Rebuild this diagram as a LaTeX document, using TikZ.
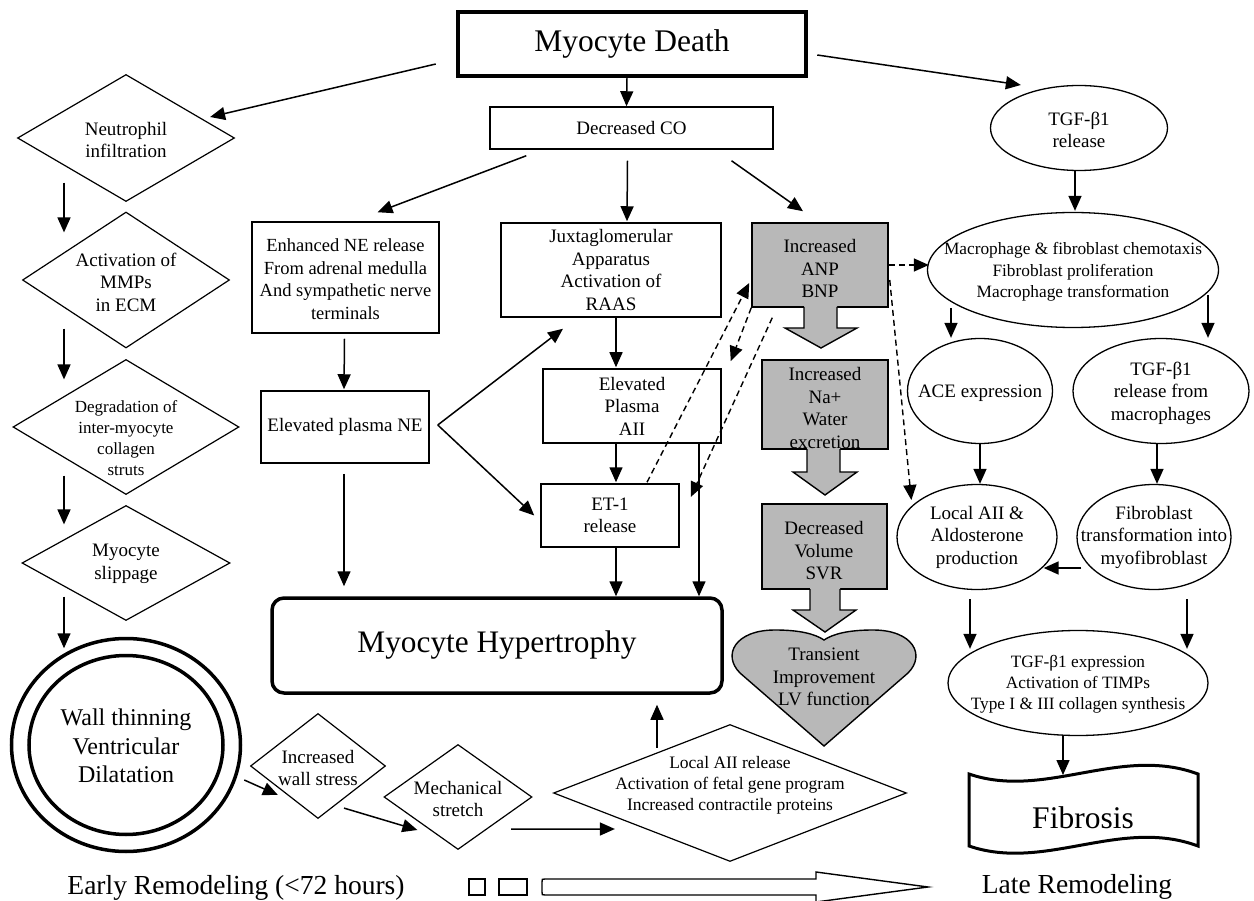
\documentclass[tikz,border=0pt]{standalone}
\usepackage{fontspec}
\setmainfont{Liberation Serif}
\usetikzlibrary{arrows.meta,shapes.geometric,calc}
\definecolor{greyfill}{RGB}{184,184,184}
\begin{document}
\begin{tikzpicture}[x=1pt,y=-1pt,
  t18/.style={font=\fontsize{19}{22.5}\selectfont, align=center, inner sep=0pt},
  t17/.style={font=\fontsize{17.3}{21.5}\selectfont, align=center, inner sep=0pt},
  arr/.style={line width=1.5pt, -{Triangle[length=15pt,width=13pt]}},
  darr/.style={line width=1.4pt, dash pattern=on 6pt off 4pt, -{Triangle[length=15pt,width=13pt]}},
  rbox/.style={draw, line width=1.5pt, rectangle, inner sep=0pt, t18},
  gbox/.style={rbox, fill=greyfill},
  dia/.style={draw, line width=1.2pt, diamond, inner sep=0pt},
  ell/.style={draw, line width=1.3pt, ellipse, inner sep=0pt},
  blk/.style={line width=1.4pt},
]
\path[use as bounding box] (0,0) rectangle (1254,901);

% ---------- top ----------
\node[rbox, line width=4.5pt, minimum width=348, minimum height=64,
      font=\fontsize{31.5}{36}\selectfont] (death) at (632,44) {Myocyte Death};
\node[rbox, minimum width=283, minimum height=42] (co) at (631.5,128) {Decreased CO};

% ---------- middle column ----------
\node[rbox, minimum width=187, minimum height=111] (ne) at (345.5,277.5) {};
\node[t18, font=\fontsize{18.5}{22.5}\selectfont] (net) at (345.5,279) {Enhanced NE release\\From adrenal medulla\\And sympathetic nerve\\terminals};
\node[rbox, minimum width=168, minimum height=72] (pne) at (345,427) {Elevated plasma NE};
\node[rbox, minimum width=220, minimum height=94] (jx) at (611,270) {Juxtaglomerular\\Apparatus\\Activation of\\RAAS};
\node[rbox, minimum width=178, minimum height=74] (aii) at (632,406) {Elevated\\Plasma\\AII};
\node[rbox, minimum width=138, minimum height=63] (et1) at (610,515.5) {ET-1\\release};
\node[draw, line width=3.5pt, rounded corners=12pt, minimum width=450, minimum height=95,
      inner sep=0pt, font=\fontsize{31.3}{36}\selectfont] (hyp) at (497,645.5) {Myocyte Hypertrophy};

% ---------- gray column ----------
\node[gbox, minimum width=136, minimum height=84] (anp) at (820,265) {};
\node[t18] (anpt) at (820,268.5) {Increased\\ANP\\BNP};
\node[gbox, minimum width=126, minimum height=89] (na) at (825,404.5) {};
\node[gbox, minimum width=125, minimum height=85] (vol) at (824.5,546.5) {};
% block arrows
\fill[greyfill] (804,305) -- (804,328) -- (785,328) -- (821,348) -- (857,328) -- (837,328) -- (837,305) -- cycle;
\draw[blk] (804,307) -- (804,328) -- (785,328) -- (821,348) -- (857,328) -- (837,328) -- (837,307);
\fill[greyfill] (807,447) -- (807,472) -- (793,472) -- (825,495) -- (857,472) -- (840,472) -- (840,447) -- cycle;
\draw[blk] (807,449) -- (807,472) -- (793,472) -- (825,495) -- (857,472) -- (840,472) -- (840,449);
\node[t18] (nat) at (825,408) {Increased\\Na+\\Water\\excretion};
\node[t18] (volt) at (824,551) {Decreased\\Volume\\SVR};
% heart
\draw[blk, fill=greyfill] (824,746) -- (740,673) .. controls (722,655) and (735,630) .. (775,630)
   .. controls (800,630) and (815,634) .. (824,640)
   .. controls (833,634) and (848,630) .. (873,630)
   .. controls (913,630) and (926,655) .. (908,673) -- cycle;
\fill[greyfill] (810,587) -- (810,610) -- (793,610) -- (825,632) -- (856,610) -- (840,610) -- (840,587) -- cycle;
\draw[blk] (810,589) -- (810,610) -- (793,610) -- (825,632) -- (856,610) -- (840,610) -- (840,589);
\node[t18] (heartt) at (824,677) {Transient\\Improvement\\LV function};

% ---------- left column ----------
\node[dia, minimum width=217, minimum height=127] (n1) at (126,138) {};
\node[t18] (n1t) at (126,140) {Neutrophil\\infiltration};
\node[dia, minimum width=207, minimum height=136] (n2) at (126,280) {};
\node[t18] (n2t) at (126,282) {Activation of\\MMPs\\in ECM};
\node[dia, minimum width=226, minimum height=135] (n3) at (126,427) {};
\node[t17, font=\fontsize{17}{21}\selectfont] (n3t) at (126,438) {Degradation of\\inter-myocyte\\collagen\\struts};
\node[dia, minimum width=208, minimum height=115] (n4) at (126,563) {};
\node[t18] (n4t) at (126,564) {Myocyte\\slippage};
\node[ell, line width=3.5pt, minimum width=229, minimum height=213] (circO) at (126,745) {};
\node[ell, line width=3.5pt, minimum width=194, minimum height=179] (circI) at (126,745) {};
\node[font=\fontsize{24}{28.5}\selectfont, align=center, inner sep=0pt] (circt) at (126,746)
   {Wall thinning\\Ventricular\\Dilatation};

% ---------- bottom chain ----------
\node[dia, minimum width=135, minimum height=105] (ws) at (318,766) {};
\node[t18] (wst) at (318,768) {Increased\\wall stress};
\node[dia, minimum width=148, minimum height=105] (mech) at (458,797) {};
\node[t18] (mecht) at (458,799) {Mechanical\\stretch};
\node[dia, minimum width=353, minimum height=137] (ldia) at (730,793) {};
\node[t17, font=\fontsize{17.5}{21}\selectfont] (ldiat) at (730,785) {Local AII release\\Activation of fetal gene program\\Increased contractile proteins};

% ---------- right column ----------
\node[ell, minimum width=177, minimum height=85] (tgf) at (1079,128) {};
\node[t18] (tgft) at (1079,130) {TGF-β1\\release};
\node[ell, minimum width=291, minimum height=115] (mac) at (1073,270) {};
\node[t17] (mact) at (1073,272) {Macrophage \& fibroblast chemotaxis\\Fibroblast proliferation\\Macrophage transformation};
\node[ell, minimum width=145, minimum height=105] (ace) at (980,391) {};
\node[t18] (acet) at (980,393) {ACE expression};
\node[ell, minimum width=176, minimum height=105] (tgfm) at (1161,391) {};
\node[t18] (tgfmt) at (1161,393) {TGF-β1\\release from\\macrophages};
\node[ell, minimum width=160, minimum height=105] (lai) at (977,537) {};
\node[t18] (lait) at (977,537) {Local AII \&\\Aldosterone\\production};
\node[ell, minimum width=154, minimum height=105] (fib) at (1154,537) {};
\node[t18] (fibt) at (1154,537) {Fibroblast\\transformation into\\myofibroblast};
\node[ell, minimum width=260, minimum height=105] (bt) at (1078,683) {};
\node[t17, font=\fontsize{17.3}{21}\selectfont] (btt) at (1078,684)
   {TGF-β1 expression\\Activation of TIMPs\\Type I \& III collagen synthesis};
% fibrosis wave
\draw[line width=3pt] (969,774) .. controls (1045,800) and (1120,745) .. (1198,774)
   -- (1198,846) .. controls (1120,817) and (1045,872) .. (969,846) -- cycle;
\node[font=\fontsize{31.5}{34}\selectfont, inner sep=0pt] (fibro) at (1083,818) {Fibrosis};

% ---------- bottom labels ----------
\node[font=\fontsize{27.5}{30}\selectfont, anchor=base, inner sep=0pt] (early) at (236,894) {Early Remodeling (<72 hours)};
\node[font=\fontsize{27.5}{30}\selectfont, anchor=base, inner sep=0pt] (late) at (1077,893) {Late Remodeling};
\draw[blk] (469,879) rectangle (485,895);
\draw[blk] (499,879) rectangle (527,895);
\draw[blk] (816,879) -- (545,879) .. controls (542,879) .. (542,882) -- (542,892) .. controls (542,895) .. (545,895)
   -- (816,895) -- (816,902) -- (928,887) -- (816,872) -- cycle;

% ---------- connectors ----------
\draw[arr] ([xshift=-5pt]death.south) -- ([xshift=-5pt]co.north);
\draw[arr] ($(death.west)+(-20,20)$) -- ($(n1.east)+(-25,-21)$);
\draw[arr] ($(death.east)+(9,11)$) -- ($(tgf.west)+(31,-43)$);
\draw[arr] ($(co.south west)+(37,6)$) -- ($(ne.north)+(32,-9)$);
\draw[arr] ($(co.south)+(-4,11)$) -- ($(jx.north)+(16,-1)$);
\draw[arr] ($(co.south)+(100,11)$) -- ($(anp.north)+(-17,-11)$);

\draw[arr] ($(ne.south)+(-1,5)$) -- ($(pne.north)+(-1,-1)$);
\draw[arr] ($(pne.south)+(-1,10)$) -- ($(hyp.north)+(-153,-10)$);
\draw[arr] ($(pne.east)+(8,-2)$) -- ($(jx.south)+(-48,11)$);
\draw[arr] ($(pne.east)+(8,-2)$) -- ($(et1.west)+(-6,0)$);
\draw[arr] ($(jx.south)+(5,0)$) -- ($(aii.north)+(-16,-1)$);
\draw[arr] ($(aii.south)+(-16,0)$) -- ($(et1.north)+(6,-1)$);
\draw[arr] ($(et1.south)+(6,0)$) -- ($(hyp.north)+(119,0)$);
\draw[arr] ($(aii.south)+(67,0)$) -- ($(hyp.north)+(202,0)$);

\draw[darr] ($(anp.east)$) -- ($(mac.west)+(2,-5)$);
\draw[darr] ($(anp.east)+(1,15)$) -- ($(lai.west)+(15,-37)$);
\draw[darr] ($(et1.north)+(37,-1)$) -- ($(anp.west)+(-2,18)$);
\draw[darr] (anp.south west) -- ($(aii.north east)+(9,-7)$);
\draw[darr] ($(anp.south west)+(21,10)$) -- ($(et1.east)+(11,-18.5)$);

\draw[arr] ($(n1.south)+(-62,-19.5)$) -- ($(n2.north)+(-62,21)$);
\draw[arr] ($(n2.south)+(-62,-20)$) -- ($(n3.north)+(-62,20.5)$);
\draw[arr] ($(n3.south)+(-62,-19.5)$) -- ($(n4.north)+(-62,19.5)$);
\draw[arr] ($(n4.south)+(-62,-24.5)$) -- ($(circO.north)+(-62,11.5)$);
\draw[arr] ($(circO.east)+(2,35)$) -- ($(ws.west)+(28,29)$);
\draw[arr] ($(ws.south)+(26,-11)$) -- ($(mech.west)+(34,33)$);
\draw[arr] ($(mech.south)+(53,-21)$) -- ($(ldia.west)+(62,36)$);
\draw[arr] ($(hyp.south)+(160,53)$) -- ($(hyp.south)+(160,10)$);

\draw[arr] ($(tgf.south)+(-4,0)$) -- ($(mac.north)+(2,-1)$);
\draw[arr] ($(ace.north)+(-29,-30)$) -- ($(ace.north)+(-29,0)$);
\draw[arr] ($(tgfm.north)+(47,-43)$) -- ($(tgfm.north)+(47,0)$);
\draw[arr] (ace.south) -- ($(lai.north)+(3,0)$);
\draw[arr] ($(tgfm.south)+(-4,0)$) -- ($(fib.north)+(3,0)$);
\draw[arr] ($(fib.west)+(5,31)$) -- ($(lai.east)+(-14,31)$);
\draw[arr] ($(lai.south)+(-7,9)$) -- ($(bt.north)+(-108,19)$);
\draw[arr] ($(fib.south)+(33,9)$) -- ($(bt.north)+(109,19)$);
\draw[arr] ($(bt.south)+(-15,0)$) -- ($(fibro)+(-20,-43)$);
\end{tikzpicture}
\end{document}
